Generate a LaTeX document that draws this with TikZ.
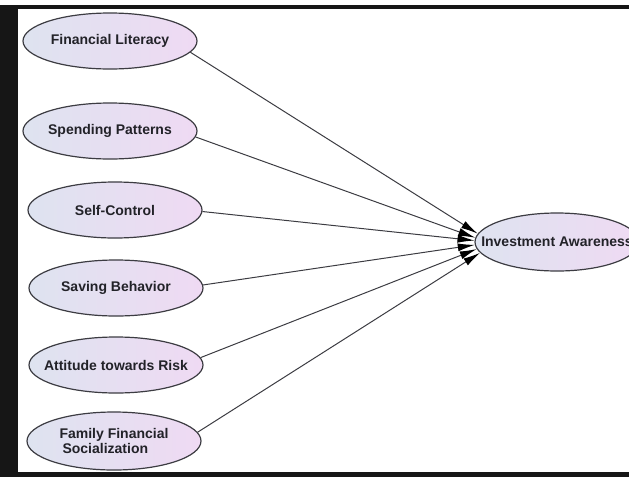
\documentclass[tikz,border=0pt]{standalone}
\usepackage{fontspec}
\setmainfont{Liberation Sans}
\usetikzlibrary{shapes.geometric, arrows.meta}

\definecolor{bluefill}{RGB}{222,227,240}
\definecolor{lilacfill}{RGB}{239,218,243}
\definecolor{rimgray}{RGB}{60,60,66}
\definecolor{inkgray}{RGB}{34,34,40}
\definecolor{framegray}{RGB}{22,22,22}

\begin{document}
\begin{tikzpicture}[x=1pt, y=-1pt,
    construct/.style={ellipse, draw=rimgray, line width=1.2pt, inner ysep=0pt, inner xsep=-14pt,
        left color=bluefill, right color=lilacfill,
        minimum width=174pt, minimum height=56pt,
        text=inkgray, font=\fontsize{14}{15}\selectfont\bfseries},
    path/.style={draw=rimgray, line width=1pt, -{Latex[length=17pt, width=8pt, black]}}
]
    \useasboundingbox (0,0) rectangle (629,477);
    \clip (0,0) rectangle (629,477);

    % Frame
    \fill[framegray] (0,5) rectangle (18,477);
    \fill[framegray] (0,5) rectangle (629,9);
    \fill[framegray] (0,472) rectangle (629,477);

    % Predictors
    \node[construct] (fl) at (110,41) {Financial Literacy};
    \node[construct] (sp) at (110,131) {Spending Patterns};
    \node[construct] (sc) at (115,210) {Self-Control};
    \node[construct] (sb) at (116,288) {Saving Behavior};
    \node[construct] (ar) at (116,365) {Attitude towards Risk};
    \node[construct, minimum height=58pt, align=left] (ffs) at (114,441)
        {Family Financial\\\hspace{3pt}Socialization};

    % Outcome
    \node[construct, inner xsep=-20pt, minimum width=164pt, minimum height=58pt] (ia) at (557,242) {Investment Awareness};

    % Paths, all meeting at the left end of the outcome
    \draw[path] (fl.-8) -- (ia.174);
    \draw[path] (sp.-4) -- (ia.177);
    \draw[path] (sc.-1) -- (ia.179);
    \draw[path] (sb.2) -- (ia.182);
    \draw[path] (ar.5) -- (ia.185);
    \draw[path] (ffs.6) -- (ia.188);
\end{tikzpicture}
\end{document}
